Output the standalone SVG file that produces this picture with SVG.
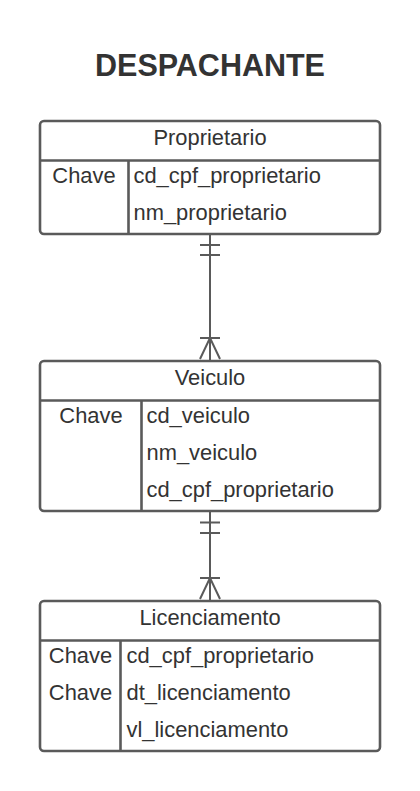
<svg xmlns="http://www.w3.org/2000/svg" width="420" height="791" viewBox="0 0 420 791">
<style>
.box{fill:#fff;stroke:#5a5a5a;stroke-width:2.6}
.ln{stroke:#5a5a5a;stroke-width:2.6;fill:none}
.cn{stroke:#5a5a5a;stroke-width:2;fill:none}
text{font-family:"Liberation Sans",Arial,sans-serif;fill:#333;font-size:21.9px}
.c{text-anchor:middle}
.title{font-size:30.5px;font-weight:bold;text-anchor:middle}
</style>
<rect width="420" height="791" fill="#fff"/>
<text class="title" x="210" y="76">DESPACHANTE</text>
<g id="connectors">
<path class="cn" d="M210 234V360M200 245H220M200 255H220M200 338H220M210 338L200 359M210 338L220 359"/>
<path class="cn" d="M210 511V600M200 522.5H220M200 533H220M200 578H220M210 578L200 599M210 578L220 599"/>
</g>
<g id="proprietario">
<rect class="box" x="40" y="121" width="340" height="113" rx="4"/>
<path class="ln" d="M40 160.5H380M128.5 160.5V234"/>
<text class="c" x="210" y="145">Proprietario</text>
<text class="c" x="84" y="183">Chave</text>
<text x="133.5" y="183">cd_cpf_proprietario</text>
<text x="133.5" y="220">nm_proprietario</text>
</g>
<g id="veiculo">
<rect class="box" x="40" y="361" width="340" height="150" rx="4"/>
<path class="ln" d="M40 400.5H380M141.5 400.5V511"/>
<text class="c" x="210" y="385">Veiculo</text>
<text class="c" x="91" y="423">Chave</text>
<text x="146.5" y="423">cd_veiculo</text>
<text x="146.5" y="460">nm_veiculo</text>
<text x="146.5" y="497">cd_cpf_proprietario</text>
</g>
<g id="licenciamento">
<rect class="box" x="40" y="601" width="340" height="150" rx="4"/>
<path class="ln" d="M40 640.5H380M120.5 640.5V751"/>
<text class="c" x="210" y="625">Licenciamento</text>
<text class="c" x="80.5" y="663">Chave</text>
<text x="126.5" y="663">cd_cpf_proprietario</text>
<text class="c" x="80.5" y="700">Chave</text>
<text x="126.5" y="700">dt_licenciamento</text>
<text x="126.5" y="737">vl_licenciamento</text>
</g>
</svg>
